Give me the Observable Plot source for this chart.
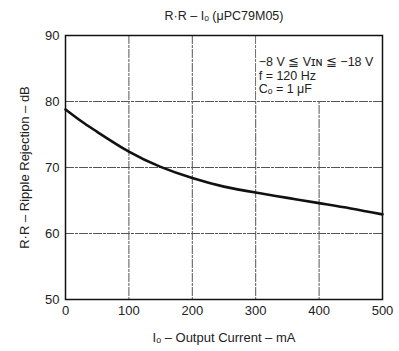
<!DOCTYPE html>
<html><head><meta charset="utf-8">
<script src="https://cdn.jsdelivr.net/npm/d3@7"></script>
<script src="https://cdn.jsdelivr.net/npm/@observablehq/plot@0.6"></script>
<style>body{margin:0;background:#fff}</style>
</head><body><div id="chart"></div>
<script>
const current = [0, 25, 50, 100, 150, 200, 250, 300, 350, 400, 450, 500];
const rejection = [78.8, 77.0, 75.4, 72.4, 70.1, 68.4, 67.1, 66.2, 65.4, 64.6, 63.8, 62.9];
const xTicks = [0, 100, 200, 300, 400, 500];
const yTicks = [50, 60, 70, 80, 90];
const title = "R·R – Iₒ (μPC79M05)";
const xLabel = "Iₒ – Output Current – mA";
const yLabel = "R·R – Ripple Rejection – dB";
const notes = ["−8 V ≦ Vɪɴ ≦ −18 V", "f = 120 Hz", "Cₒ = 1 μF"];
const noteBox = {x1: 300, x2: 500, y1: 80, y2: 90};

const data = current.map((c, i) => ({c, r: rejection[i]}));
const font = "'Liberation Sans', Arial, sans-serif";

const plot = Plot.plot({
  width: 399, height: 351,
  marginLeft: 65, marginRight: 17, marginTop: 35, marginBottom: 52,
  style: {fontFamily: font, fontSize: "13px", color: "#222", background: "#fff"},
  x: {domain: [0, 500]},
  y: {domain: [50, 90]},
  marks: [
    Plot.ruleX(xTicks.slice(1, -1), {stroke: "#555", strokeWidth: 1, strokeDasharray: "9,1,3,1"}),
    Plot.ruleY(yTicks.slice(1, -1), {stroke: "#555", strokeWidth: 1, strokeDasharray: "9,1,3,1"}),
    Plot.rect([noteBox], {x1: "x1", x2: "x2", y1: "y1", y2: "y2", fill: "#fff", inset: 1}),
    Plot.frame({stroke: "#111", strokeWidth: 1.5}),
    Plot.line(data, {x: "c", y: "r", stroke: "#111", strokeWidth: 2.6, curve: "natural"}),
    Plot.text([notes.join("\n")], {x: noteBox.x1, y: noteBox.y2, textAnchor: "start",
      lineAnchor: "top", lineHeight: 1.08, dx: 3, dy: 21, fontSize: 12.5, fill: "#222"}),
    Plot.axisX(xTicks, {tickSize: 0, tickPadding: 6, fontSize: 13, label: xLabel,
      labelAnchor: "center", labelArrow: "none", labelOffset: 42}),
    Plot.axisY(yTicks, {tickSize: 0, tickPadding: 6, fontSize: 13, label: yLabel,
      labelAnchor: "center", labelArrow: "none", labelOffset: 46}),
    Plot.text([title], {frameAnchor: "top", dy: -24, fontSize: 12.5, fill: "#222"})
  ]
});
document.getElementById("chart").append(plot);
</script></body></html>
